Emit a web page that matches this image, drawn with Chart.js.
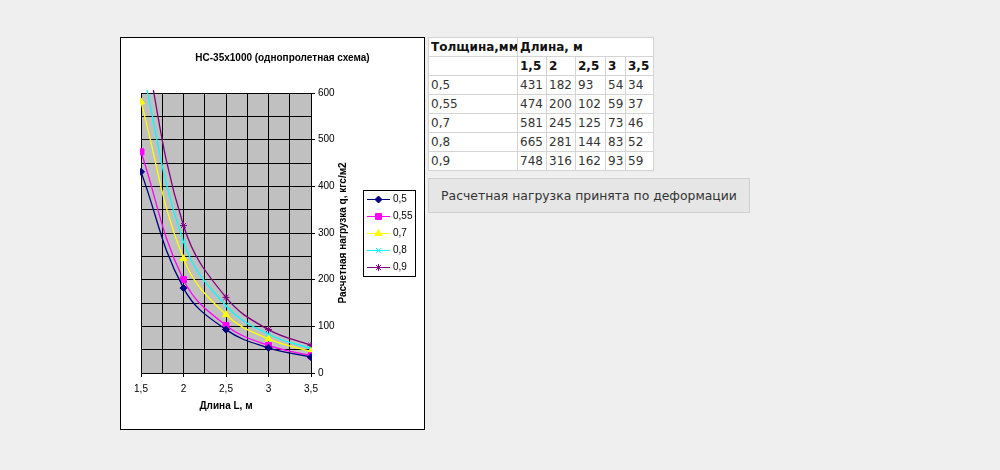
<!DOCTYPE html>
<html>
<head>
<meta charset="utf-8">
<title>НС-35х1000</title>
<script src="https://cdn.jsdelivr.net/npm/chart.js@4.4.1/dist/chart.umd.min.js"></script>
<style>
    body {
        margin: 0;
        background: #efefef;
        font-family: 'DejaVu Sans', Verdana, sans-serif;
    }
    #chartBox {
        position: absolute;
        left: 120px;
        top: 37px;
        width: 303px;
        height: 391px;
        border: 1px solid #000;
        background: #fff;
    }
    #loadTable {
        position: absolute;
        left: 428px;
        top: 37px;
        width: 225px;
        border-collapse: collapse;
        table-layout: fixed;
        background: #fff;
        font-size: 12px;
        color: #333;
    }
    #loadTable td {
        border: 1px solid #d4d4d4;
        padding: 0 0 0 2px;
        height: 18px;
        line-height: 18px;
        white-space: nowrap;
        overflow: hidden;
    }
    #loadTable tr.head td {
        font-weight: bold;
        color: #111;
    }
    #note {
        position: absolute;
        left: 428px;
        top: 178px;
        width: 322px;
        height: 35px;
        box-sizing: border-box;
        border: 1px solid #cfcfcf;
        background: #e6e6e6;
        font-size: 12.4px;
        color: #333;
        line-height: 33px;
        text-align: center;
    }
</style>
</head>
<body>
<div id="chartBox"><canvas id="loadChart"></canvas></div>
<table id="loadTable">
    <colgroup>
        <col style="width:89px"><col style="width:29px"><col style="width:29px">
        <col style="width:30px"><col style="width:20px"><col style="width:28px">
    </colgroup>
    <tbody id="tableBody"></tbody>
</table>
<div id="note">Расчетная нагрузка принята по деформации</div>

<script>
// lengths of span, m
const lengths = [1.5, 2, 2.5, 3, 3.5];
const lengthLabels = ['1,5', '2', '2,5', '3', '3,5'];

// sheet thickness, mm
const thicknesses = ['0,5', '0,55', '0,7', '0,8', '0,9'];

// design load q, kgf/m2
const load05 = [431, 182, 93, 54, 34];
const load055 = [474, 200, 102, 59, 37];
const load07 = [581, 245, 125, 73, 46];
const load08 = [665, 281, 144, 83, 52];
const load09 = [748, 316, 162, 93, 59];

const yTickLabels = [0, 100, 200, 300, 400, 500, 600];

const seriesValues = [load05, load055, load07, load08, load09];
const seriesColors = ['#000080', '#ff00ff', '#ffff00', '#00ffff', '#800080'];
const seriesMarkers = ['rectRot', 'rect', 'triangle', 'crossRot', 'star'];
const markerSizes = [3.5, 4.2, 4, 3.5, 3.5];

const excelFont = "Arial, 'Liberation Sans', sans-serif";

window.onload = () => {

    // table under the same numbers
    const body = document.getElementById('tableBody');
    let html = '<tr class="head"><td>Толщина,мм</td><td colspan="5">Длина, м</td></tr>';
    html += '<tr class="head"><td></td>' + lengthLabels.map(l => '<td>' + l + '</td>').join('') + '</tr>';
    thicknesses.forEach((t, i) => {
        html += '<tr><td>' + t + '</td>' + seriesValues[i].map(v => '<td>' + v + '</td>').join('') + '</tr>';
    });
    body.innerHTML = html;

    const isMajor = (v, step) => Math.abs(v / step - Math.round(v / step)) < 1e-6;

    const datasets = thicknesses.map((t, i) => ({
        label: t,
        data: lengths.map((x, j) => ({ x: x, y: seriesValues[i][j] })),
        borderColor: seriesColors[i],
        backgroundColor: seriesColors[i],
        borderWidth: 1.3,
        tension: 0.4,
        clip: { left: 1, right: 1, top: 3, bottom: 1 },
        pointStyle: seriesMarkers[i],
        pointRadius: markerSizes[i],
        pointBackgroundColor: seriesColors[i],
        pointBorderColor: seriesColors[i],
        pointBorderWidth: 1,
    }));

    // grey plot area like the old Excel charts
    const plotBackground = {
        id: 'plotBackground',
        beforeDraw(chart) {
            const { ctx, chartArea } = chart;
            ctx.save();
            ctx.fillStyle = '#c0c0c0';
            ctx.fillRect(chartArea.left, chartArea.top, chartArea.right - chartArea.left, chartArea.bottom - chartArea.top);
            ctx.restore();
        }
    };

    // y title reads bottom to top on the right side
    const rightTitle = {
        id: 'rightTitle',
        afterDraw(chart) {
            const { ctx, chartArea } = chart;
            ctx.save();
            ctx.translate(chartArea.right + 32, (chartArea.top + chartArea.bottom) / 2);
            ctx.rotate(-Math.PI / 2);
            ctx.font = 'bold 10px ' + excelFont;
            ctx.fillStyle = '#000';
            ctx.textAlign = 'center';
            ctx.textBaseline = 'middle';
            ctx.fillText('Расчетная нагрузка q, кгс/м2', 0, 0);
            ctx.restore();
        }
    };

    // boxed legend with line + marker samples
    const boxedLegend = {
        id: 'boxedLegend',
        afterDraw(chart) {
            const { ctx, chartArea } = chart;
            const left = chartArea.right + 52;
            const top = chartArea.top + 97;
            ctx.save();
            ctx.strokeStyle = '#000';
            ctx.lineWidth = 1;
            ctx.strokeRect(left + 0.5, top + 0.5, 52, 86);
            ctx.font = '10px ' + excelFont;
            ctx.textBaseline = 'middle';
            chart.data.datasets.forEach((ds, i) => {
                const cy = Math.round(top + 9 + i * 17.1) + 0.5;
                ctx.strokeStyle = ds.borderColor;
                ctx.beginPath();
                ctx.moveTo(left + 4, cy);
                ctx.lineTo(left + 27, cy);
                ctx.stroke();
                ctx.fillStyle = ds.pointBackgroundColor;
                Chart.helpers.drawPoint(ctx, {
                    pointStyle: ds.pointStyle,
                    radius: ds.pointRadius,
                    rotation: 0,
                    borderWidth: 1
                }, left + 15.5, cy);
                ctx.fillStyle = '#000';
                ctx.fillText(ds.label, left + 30, cy);
            });
            ctx.restore();
        }
    };

    const loadChart = document.getElementById('loadChart');

    new Chart(loadChart, {
        type: 'line',
        data: { datasets: datasets },
        plugins: [plotBackground, rightTitle, boxedLegend],
        options: {
            responsive: true,
            maintainAspectRatio: false,
            animation: false,
            layout: {
                padding: { left: 20, right: 0, top: 0, bottom: 0 }
            },
            plugins: {
                legend: { display: false },
                tooltip: { enabled: false },
                title: {
                    display: true,
                    text: 'НС-35х1000 (однопролетная схема)',
                    color: '#000',
                    font: { family: excelFont, size: 10, weight: 'bold' },
                    padding: { top: 14, bottom: 29 }
                }
            },
            scales: {
                x: {
                    type: 'linear',
                    min: lengths[0],
                    max: lengths[lengths.length - 1],
                    afterFit: (scale) => { scale.height = 56; },
                    border: { color: '#000', width: 1 },
                    grid: {
                        color: '#000',
                        tickLength: 4,
                        tickColor: (c) => (c.tick && isMajor(c.tick.value, 0.5)) ? '#000' : 'rgba(0,0,0,0)'
                    },
                    ticks: {
                        stepSize: 0.25,
                        autoSkip: false,
                        maxRotation: 0,
                        padding: 6,
                        color: '#000',
                        font: { family: excelFont, size: 10 },
                        callback: (v) => {
                            const idx = lengths.findIndex(l => Math.abs(l - v) < 1e-6);
                            return idx >= 0 ? lengthLabels[idx] : '';
                        }
                    },
                    title: {
                        display: true,
                        text: 'Длина L, м',
                        color: '#000',
                        font: { family: excelFont, size: 10, weight: 'bold' },
                        padding: { top: 7, bottom: 17 }
                    }
                },
                y: {
                    position: 'right',
                    min: yTickLabels[0],
                    max: yTickLabels[yTickLabels.length - 1],
                    afterFit: (scale) => { scale.width = 113; },
                    border: { color: '#000', width: 1 },
                    grid: {
                        color: '#000',
                        tickLength: 4,
                        tickColor: (c) => (c.tick && yTickLabels.includes(c.tick.value)) ? '#000' : 'rgba(0,0,0,0)'
                    },
                    ticks: {
                        stepSize: 50,
                        autoSkip: false,
                        padding: 3,
                        color: '#000',
                        font: { family: excelFont, size: 10 },
                        callback: (v) => yTickLabels.includes(v) ? String(v) : ''
                    }
                }
            }
        }
    });
};
</script>
</body>
</html>
